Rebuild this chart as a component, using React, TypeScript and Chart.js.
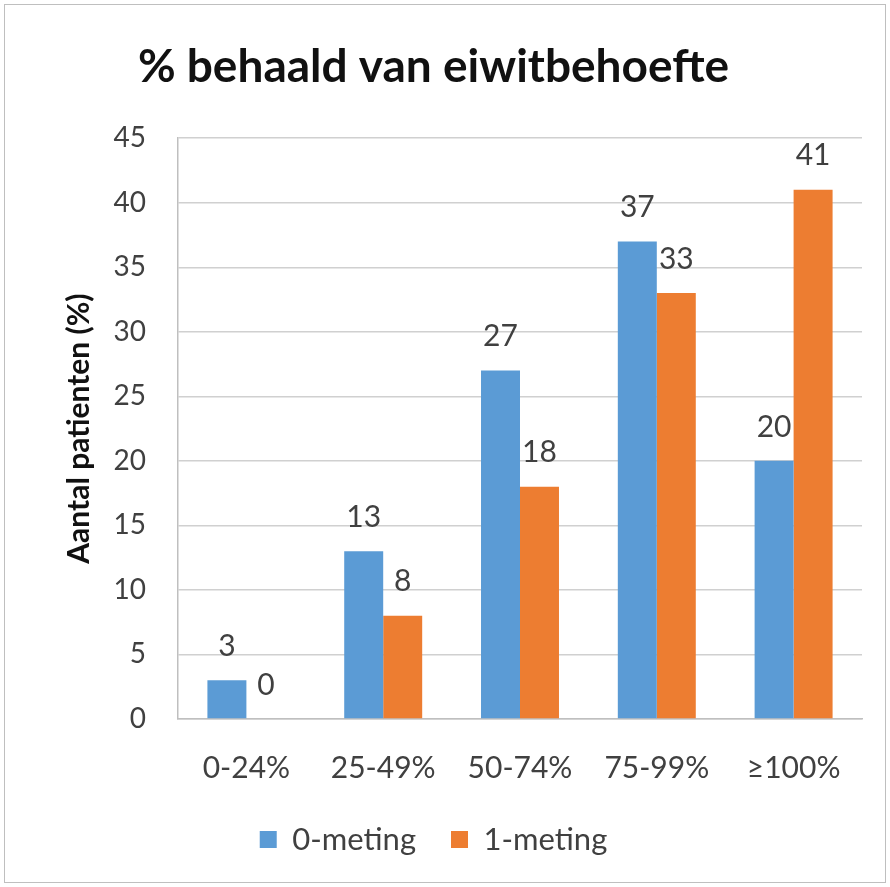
import React, { useEffect, useRef } from "react";
import { Chart, registerables } from "chart.js";
Chart.register(...registerables);

const title = "% behaald van eiwitbehoefte";
const yTitle = "Aantal patienten (%)";
const categories = ["0-24%", "25-49%", "50-74%", "75-99%", "≥100%"];
const seriesNames = ["0-meting", "1-meting"];
const meting0 = [3, 13, 27, 37, 20];
const meting1 = [0, 8, 18, 33, 41];
const yMin = 0;
const yMax = 45;
const yStep = 5;

const FONT = "Lato, 'Open Sans', sans-serif";

const dataLabels = {
  id: "dataLabels",
  afterDatasetsDraw(chart: any) {
    const ctx = chart.ctx;
    ctx.save();
    ctx.font = `30px ${FONT}`;
    ctx.fillStyle = "#404040";
    ctx.textAlign = "center";
    ctx.textBaseline = "middle";
    chart.data.datasets.forEach((ds: any, i: number) => {
      const meta = chart.getDatasetMeta(i);
      meta.data.forEach((bar: any, j: number) => {
        ctx.fillText(String(ds.data[j]), bar.x, bar.y - 34);
      });
    });
    ctx.restore();
  },
};

export default function App() {
  const ref = useRef<HTMLCanvasElement>(null);
  useEffect(() => {
    if (!ref.current) return;
    const chart = new Chart(ref.current, {
      type: "bar",
      data: {
        labels: categories,
        datasets: [
          { label: seriesNames[0], data: meting0, backgroundColor: "#5B9BD5", categoryPercentage: 0.57, barPercentage: 1.0 },
          { label: seriesNames[1], data: meting1, backgroundColor: "#ED7D31", categoryPercentage: 0.57, barPercentage: 1.0 },
        ],
      },
      options: {
        animation: false,
        responsive: false,
        maintainAspectRatio: false,
        layout: { padding: { left: 0, right: 23, top: 0, bottom: 17 } },
        plugins: {
          title: {
            display: true,
            text: title,
            color: "#111",
            font: { family: FONT, size: 46, weight: "bold" },
            padding: { top: 35, bottom: 43 },
          },
          legend: {
            position: "bottom",
            labels: {
              color: "#404040",
              font: { family: FONT, size: 31 },
              boxWidth: 17,
              boxHeight: 17,
              padding: 35,
            },
          },
          tooltip: { enabled: false },
        },
        scales: {
          x: {
            grid: { display: false, drawTicks: false },
            border: { display: true, color: "#bfbfbf", width: 1.5 },
            ticks: { color: "#404040", font: { family: FONT, size: 30 }, padding: 31 },
            afterFit(scale: any) {
              scale.height = 70;
            },
          },
          y: {
            min: yMin,
            max: yMax,
            ticks: { stepSize: yStep, color: "#404040", font: { family: FONT, size: 28 }, padding: 32 },
            grid: { color: "#d0d0d0", lineWidth: 1.5, drawTicks: false },
            border: { display: true, color: "#bfbfbf", width: 1.5 },
            title: {
              display: true,
              text: yTitle,
              color: "#111",
              font: { family: FONT, size: 30, weight: "bold" },
              padding: { top: 56, bottom: 0 },
            },
            afterFit(scale: any) {
              scale.width = 173;
            },
          },
        },
      },
      plugins: [dataLabels],
    });
    return () => chart.destroy();
  }, []);
  return (
    <div style={{ position: "fixed", left: 4, top: 4, width: 882, height: 879, border: "1px solid #bfbfbf", boxSizing: "border-box", background: "#fff" }}>
      <canvas ref={ref} width={880} height={877} style={{ display: "block" }} />
    </div>
  );
}
